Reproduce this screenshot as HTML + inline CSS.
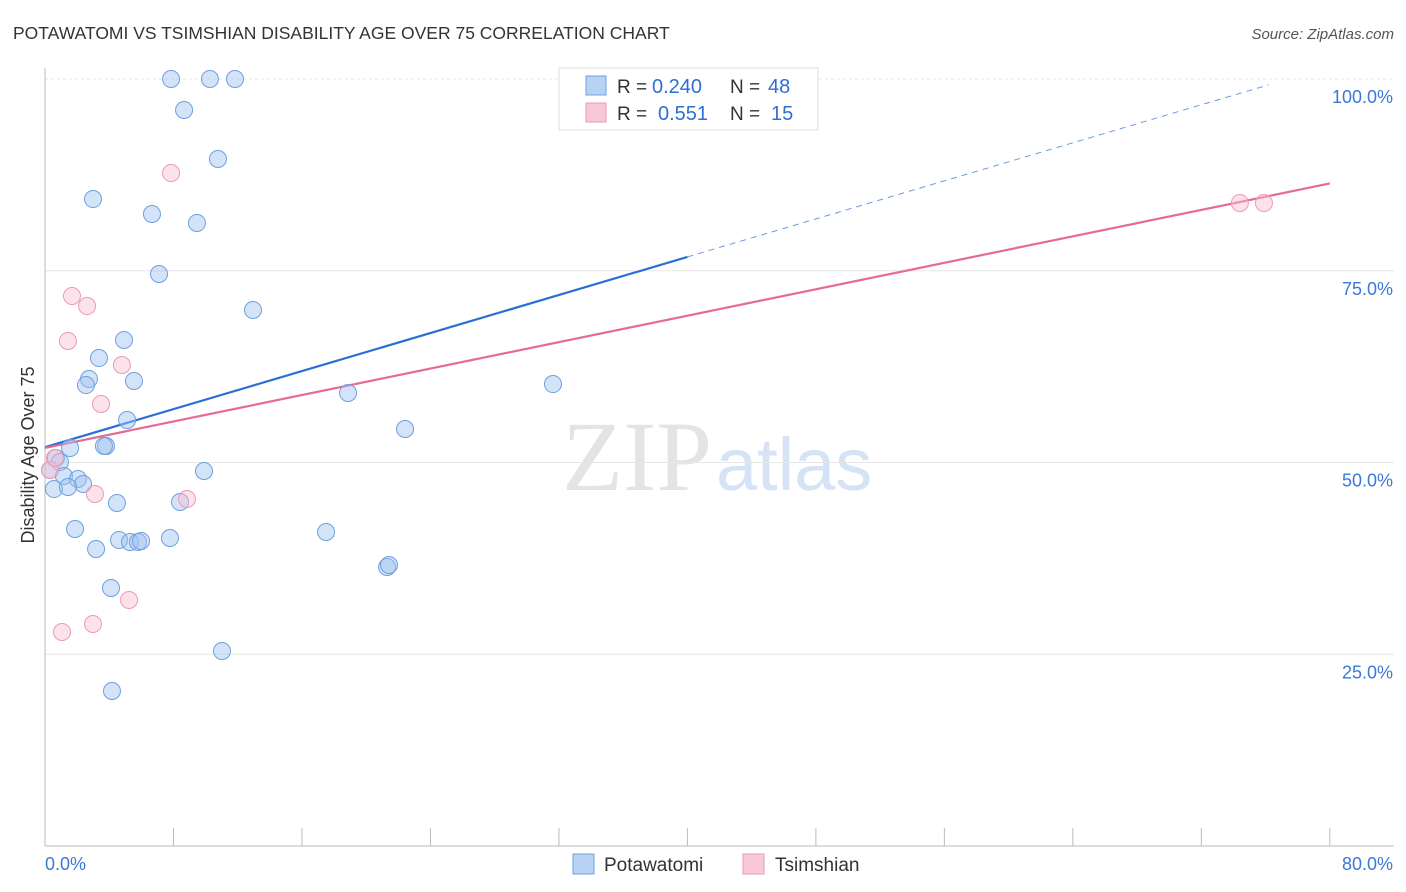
<!DOCTYPE html>
<html><head><meta charset="utf-8"><style>
body{margin:0;background:#fff;font-family:"Liberation Sans",sans-serif;}
#wrap{position:relative;width:1406px;height:892px;overflow:hidden;}
</style></head><body>
<div id="wrap">
<svg id="svg" width="1406" height="892" xmlns="http://www.w3.org/2000/svg">
<text x="13" y="39" font-size="17.5" fill="#333">POTAWATOMI VS TSIMSHIAN DISABILITY AGE OVER 75 CORRELATION CHART</text>
<text x="1394" y="39" font-size="15" fill="#555" text-anchor="end" font-style="italic">Source: ZipAtlas.com</text>
<text x="712" y="490" font-size="100" fill="#e4e4e4" text-anchor="end" font-family="Liberation Serif, serif">ZIP</text>
<text x="716" y="490" font-size="74" fill="#d5e3f5">atlas</text>
<g id="grid"></g><g id="axes"></g><g id="lines"></g><g id="pts"></g>
<text transform="translate(34,455) rotate(-90)" font-size="18" fill="#333" text-anchor="middle">Disability Age Over 75</text>
<g>
<rect x="559" y="68" width="259" height="62" fill="#fff" stroke="#ddd"/>
<rect x="586" y="76" width="20" height="19" fill="#b7d2f2" stroke="#6fa0e0"/>
<rect x="586" y="103" width="20" height="19" fill="#f9c8d8" stroke="#ec9ab4"/>
<text x="617" y="93" font-size="19" fill="#333">R =</text>
<text x="652" y="93" font-size="20" fill="#2e6fd4">0.240</text>
<text x="730" y="93" font-size="19" fill="#333">N =</text>
<text x="768" y="93" font-size="20" fill="#2e6fd4">48</text>
<text x="617" y="120" font-size="19" fill="#333">R =</text>
<text x="658" y="120" font-size="20" fill="#2e6fd4">0.551</text>
<text x="730" y="120" font-size="19" fill="#333">N =</text>
<text x="771" y="120" font-size="20" fill="#2e6fd4">15</text>
</g>
<g>
<rect x="573" y="854" width="21" height="20" fill="#b7d2f2" stroke="#6fa0e0"/>
<text x="604" y="871" font-size="19" fill="#333">Potawatomi</text>
<rect x="743" y="854" width="21" height="20" fill="#f9c8d8" stroke="#ec9ab4"/>
<text x="775" y="871" font-size="19" fill="#333">Tsimshian</text>
</g>
</svg>
</div>
<script>
const xTicks=[0,8,16,24,32,40,48,56,64,72,80];
const yTicks=[25,50,75,100];
const blueX=[7.85,10.27,11.83,8.66,10.77,2.99,6.66,9.46,7.10,12.95,4.92,3.36,2.74,2.55,5.54,18.87,31.63,5.11,22.42,3.80,3.67,1.56,0.68,0.93,0.31,1.18,2.05,2.37,0.56,1.43,9.90,8.41,4.48,1.87,17.50,7.78,4.61,5.29,5.79,5.98,3.18,21.30,21.42,4.11,11.02,4.17];
const blueY=[100,100,100,95.96,89.57,84.35,82.4,81.23,74.58,69.88,65.97,63.62,60.89,60.1,60.63,59.06,60.23,55.54,54.37,52.15,52.15,51.89,50.59,50.07,49.02,48.24,47.85,47.2,46.54,46.81,48.89,44.85,44.72,41.33,40.94,40.16,39.9,39.63,39.63,39.77,38.72,36.38,36.64,33.64,25.42,20.21];
const pinkX=[7.85,1.68,2.62,1.43,4.79,3.49,3.11,8.84,5.23,2.99,1.06,74.4,75.9,0.31,0.62];
const pinkY=[87.74,71.71,70.4,65.84,62.71,57.63,45.89,45.24,32.07,28.94,27.9,83.83,83.83,49.02,50.59];
const blueFit=[52.0,0.62];
const pinkFit=[51.9,0.431];
const X=v=>45+v*16.06, Y=v=>846-v*7.67;
const NS="http://www.w3.org/2000/svg";
function mk(tag,attrs,parent){const e=document.createElementNS(NS,tag);for(const k in attrs)e.setAttribute(k,attrs[k]);document.getElementById(parent).appendChild(e);return e;}
yTicks.forEach(t=>{
 const l=mk('line',{x1:45,x2:1394,y1:Y(t),y2:Y(t),stroke:'#e6e6e6','stroke-dasharray':t==100?'3,3':'none'},'grid');
 
 
 const tx=mk('text',{x:1393,y:Y(t)+24,'font-size':18,fill:'#3b78d8','text-anchor':'end'},'grid');
 tx.textContent=t.toFixed(1)+'%';
 
 
});
let a=mk('line',{x1:45,x2:1394,y1:846,y2:846,stroke:'#bbb'},'axes');


a=mk('line',{x1:45,x2:45,y1:68,y2:846,stroke:'#bbb'},'axes');


xTicks.forEach(t=>{
 const l=mk('line',{x1:X(t),x2:X(t),y1:828,y2:846,stroke:'#bbb'},'axes');
 
 
});
[[0,'0.0%','start',45],[80,'80.0%','end',1393]].forEach(d=>{
 const tx=mk('text',{x:d[3],y:870,'font-size':18,fill:'#3b78d8','text-anchor':d[2]},'axes');
 tx.textContent=d[1];
 
 
});
let ln=mk('line',{x1:X(0),y1:Y(blueFit[0]),x2:X(40),y2:Y(blueFit[0]+40*blueFit[1]),stroke:'#2a6fd6','stroke-width':2.2},'lines');


ln=mk('line',{x1:X(40),y1:Y(blueFit[0]+40*blueFit[1]),x2:X(76.2),y2:Y(blueFit[0]+76.2*blueFit[1]),stroke:'#6b9be0','stroke-width':1,'stroke-dasharray':'6,5'},'lines');


ln=mk('line',{x1:X(0),y1:Y(pinkFit[0]),x2:X(80),y2:Y(pinkFit[0]+80*pinkFit[1]),stroke:'#e56b96','stroke-width':2.2},'lines');


blueX.forEach((x,i)=>{
 const c=mk('circle',{cx:X(x),cy:Y(blueY[i]),r:8.5,fill:'rgba(160,195,240,0.45)',stroke:'#6f9fe0','stroke-width':1},'pts');
 
 
});
pinkX.forEach((x,i)=>{
 const c=mk('circle',{cx:X(x),cy:Y(pinkY[i]),r:8.5,fill:'rgba(248,190,210,0.45)',stroke:'#ec9ab4','stroke-width':1},'pts');
 
 
});
</script>
</body></html>
